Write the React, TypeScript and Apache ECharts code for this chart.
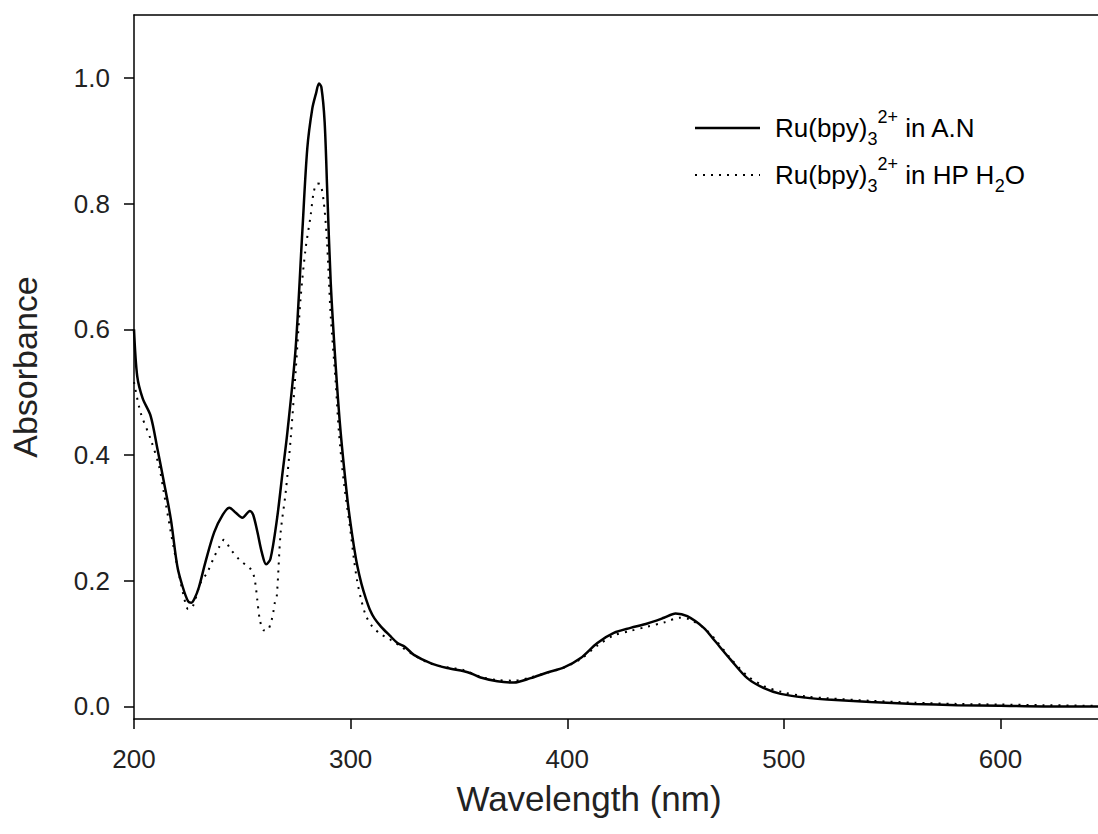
import React, { useEffect, useRef } from "react";
import * as echarts from "echarts";

// Ru(bpy)3 2+ in A.N (solid)
const wavelengthAN = [
  200, 201.5, 204, 207.7, 210.8, 213.8, 217, 220, 222.5, 225, 226.5, 228, 230, 233, 237, 241, 244, 247, 250,
  253.5, 255, 257, 259, 261, 263, 266, 268.5, 270.8, 274.6, 277.7, 280, 282.3, 284, 285.4, 286.5, 288,
  289.2, 290.8, 293.1, 295.4, 298.5, 300, 301.5, 303, 305, 307, 309, 311, 314, 318, 321.6, 325, 329.2, 336.9,
  344.6, 352.3, 356, 360, 367.7, 375.4, 383.1, 390.8, 398.5, 406.2, 413.9, 421.5, 429.2, 437, 444.6, 450,
  455.4, 463, 467.7, 475.4, 483.1, 490.8, 498.5, 510, 520, 540, 560, 580, 600, 620, 645,
];
const absorbanceAN = [
  0.6, 0.525, 0.49, 0.462, 0.41, 0.357, 0.298, 0.223, 0.19, 0.167, 0.165, 0.172, 0.19, 0.23, 0.277, 0.305,
  0.316, 0.308, 0.3, 0.311, 0.305, 0.277, 0.245, 0.226, 0.235, 0.298, 0.37, 0.436, 0.569, 0.755, 0.888,
  0.951, 0.975, 0.991, 0.985, 0.93, 0.82, 0.675, 0.542, 0.436, 0.33, 0.29, 0.255, 0.225, 0.195, 0.172,
  0.153, 0.14, 0.127, 0.113, 0.101, 0.095, 0.082, 0.069, 0.061, 0.056, 0.052, 0.046, 0.04, 0.038, 0.045,
  0.054, 0.062, 0.077, 0.101, 0.117, 0.125, 0.132, 0.141, 0.148, 0.1435, 0.125, 0.106, 0.0745, 0.045,
  0.029, 0.02, 0.014, 0.011, 0.007, 0.004, 0.002, 0.001, 0.0, 0.0,
];

// Ru(bpy)3 2+ in HP H2O (dotted)
const wavelengthHP = [
  200, 203, 207.7, 211.5, 213.8, 217, 220, 223, 225, 227, 230.8, 233.8, 236.9, 239.2, 241.5, 244.6, 248.5,
  252, 254, 255.4, 256.2, 256.9, 258.2, 260, 261.5, 263.4, 264.3, 265, 265.9, 267.7, 270, 272.3, 274.6,
  276.9, 279.2, 281.5, 283, 284.6, 286, 287.5, 289, 290.8, 293.1, 294.6, 296.9, 300, 301.5, 303, 305, 307,
  310, 314, 318, 322, 329, 337, 345, 352, 360, 368, 375, 383, 391, 398.5, 406, 414, 421.5, 429, 437, 445,
  452, 456, 463, 468, 475, 483, 491, 499, 510, 520, 540, 560, 580, 600, 620, 645,
];
const absorbanceHP = [
  0.516, 0.468, 0.425, 0.383, 0.34, 0.277, 0.223, 0.175, 0.155, 0.158, 0.197, 0.213, 0.237, 0.253, 0.265,
  0.25, 0.234, 0.224, 0.218, 0.207, 0.191, 0.17, 0.136, 0.121, 0.121, 0.136, 0.15, 0.165, 0.175, 0.277,
  0.34, 0.425, 0.532, 0.649, 0.728, 0.78, 0.819, 0.832, 0.831, 0.805, 0.745, 0.622, 0.516, 0.436, 0.356,
  0.277, 0.235, 0.2, 0.168, 0.145, 0.127, 0.115, 0.107, 0.098, 0.082, 0.068, 0.062, 0.058, 0.047, 0.042,
  0.041, 0.046, 0.054, 0.062, 0.075, 0.097, 0.113, 0.12, 0.127, 0.134, 0.141, 0.139, 0.125, 0.108, 0.078,
  0.049, 0.032, 0.023, 0.016, 0.013, 0.009, 0.006, 0.004, 0.003, 0.002, 0.001,
];

const xTickValues = [200, 300, 400, 500, 600];
const yTickValues = [0, 0.2, 0.4, 0.6, 0.8, 1.0];

const FONT = "'Liberation Sans', Arial, Helvetica, sans-serif";

const zip = (xs: number[], ys: number[]) => xs.map((x, i) => [x, ys[i]]);

export default function App() {
  const ref = useRef<HTMLDivElement>(null);
  useEffect(() => {
    if (!ref.current) return;
    const chart = echarts.init(ref.current, undefined, { renderer: "svg" });
    const axisLineStyle = { color: "#000", width: 1.5 };
    const labelStyle = { fontSize: 26, color: "#222", fontFamily: FONT };
    const rich = {
      a: { fontSize: 26, fontFamily: FONT, color: "#111", lineHeight: 40, verticalAlign: "middle" },
      sub: { fontSize: 18, fontFamily: FONT, color: "#111", lineHeight: 16, verticalAlign: "bottom" },
      sup: { fontSize: 18, fontFamily: FONT, color: "#111", lineHeight: 26, verticalAlign: "top" },
    };
    chart.setOption({
      animation: false,
      backgroundColor: "#fff",
      grid: { left: 133, top: 15, right: 0, bottom: 115 },
      xAxis: [
        {
          type: "value",
          min: 200,
          max: 645,
          interval: 100,
          axisLine: { show: true, onZero: false, lineStyle: axisLineStyle },
          axisTick: { show: true, length: 10, customValues: xTickValues, lineStyle: axisLineStyle },
          axisLabel: { customValues: xTickValues, margin: 27, ...labelStyle },
          splitLine: { show: false },
          name: "Wavelength (nm)",
          nameLocation: "middle",
          nameGap: 62,
          nameTextStyle: { fontSize: 35, color: "#222", fontFamily: FONT, padding: [0, 54, 0, 0] },
        },
        {
          type: "value",
          position: "top",
          min: 200,
          max: 645,
          axisLine: { show: true, onZero: false, lineStyle: axisLineStyle },
          axisTick: { show: false },
          axisLabel: { show: false },
          splitLine: { show: false },
        },
      ],
      yAxis: {
        type: "value",
        min: -0.02,
        max: 1.1,
        axisLine: { show: true, onZero: false, lineStyle: axisLineStyle },
        axisTick: { show: true, length: 10, customValues: yTickValues, lineStyle: axisLineStyle },
        axisLabel: {
          customValues: yTickValues,
          margin: 24,
          formatter: (v: number) => v.toFixed(1),
          ...labelStyle,
        },
        splitLine: { show: false },
        name: "Absorbance",
        nameLocation: "middle",
        nameGap: 92,
        nameTextStyle: { fontSize: 34, color: "#222", fontFamily: FONT },
      },
      series: [
        {
          name: "Ru(bpy)3 2+ in A.N",
          type: "line",
          data: zip(wavelengthAN, absorbanceAN),
          showSymbol: false,
          symbol: "none",
          smooth: 0.3,
          lineStyle: { color: "#000", width: 2.5 },
        },
        {
          name: "Ru(bpy)3 2+ in HP H2O",
          type: "line",
          data: zip(wavelengthHP, absorbanceHP),
          showSymbol: false,
          symbol: "none",
          smooth: 0.3,
          lineStyle: { color: "#000", width: 2, type: [2, 6] },
        },
      ],
      graphic: [
        {
          type: "line",
          shape: { x1: 695, y1: 128, x2: 760, y2: 128 },
          style: { stroke: "#000", lineWidth: 2.5 },
        },
        {
          type: "line",
          shape: { x1: 695, y1: 175, x2: 760, y2: 175 },
          style: { stroke: "#000", lineWidth: 2, lineDash: [2, 6] },
        },
        {
          type: "text",
          x: 775,
          y: 128,
          style: {
            text: "{a|Ru(bpy)}{sub|3}{sup|2+}{a| in A.N}",
            rich,
            verticalAlign: "middle",
            align: "left",
          },
        },
        {
          type: "text",
          x: 775,
          y: 175,
          style: {
            text: "{a|Ru(bpy)}{sub|3}{sup|2+}{a| in HP H}{sub|2}{a|O}",
            rich,
            verticalAlign: "middle",
            align: "left",
          },
        },
      ],
    });
    return () => chart.dispose();
  }, []);
  return (
    <div
      ref={ref}
      style={{ position: "fixed", left: 0, top: 0, width: 1098, height: 834, background: "#fff" }}
    />
  );
}
